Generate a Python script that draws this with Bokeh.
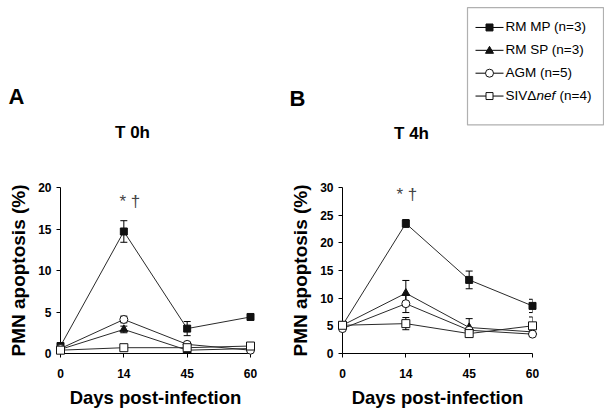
from bokeh.plotting import figure
from bokeh.models import ColumnDataSource, Range1d, FixedTicker, Whisker, TeeHead
from bokeh.core.properties import value
from bokeh.layouts import row
from bokeh.embed import file_html
from bokeh.resources import INLINE

# ---------------- data ----------------
days = ["0", "14", "45", "60"]
series_names = ["RM MP", "RM SP", "AGM", "SIV\u0394nef"]
series_n = [3, 3, 5, 4]

# Panel A: T 0h
a_rm_mp = [0.9, 14.7, 3.0, 4.4]
a_rm_mp_err = [0.2, 1.3, 0.85, 0.15]
a_rm_sp = [0.5, 2.9, 0.4, 0.6]
a_rm_sp_err = [0.1, 0.4, 0.1, 0.1]
a_agm = [0.6, 4.1, 1.1, 0.4]
a_agm_err = [0.1, 0.4, 0.2, 0.1]
a_siv = [0.4, 0.7, 0.7, 0.9]
a_siv_err = [0.1, 0.1, 0.1, 0.1]

# Panel B: T 4h
b_rm_mp = [5.1, 23.5, 13.3, 8.6]
b_rm_mp_err = [0.5, 0.7, 1.6, 1.2]
b_rm_sp = [5.1, 10.9, 4.7, 3.9]
b_rm_sp_err = [0.4, 2.3, 1.6, 0.3]
b_agm = [4.5, 9.0, 4.2, 3.5]
b_agm_err = [0.3, 1.6, 0.5, 0.3]
b_siv = [5.1, 5.4, 3.6, 5.0]
b_siv_err = [0.3, 1.1, 0.6, 1.6]

a_ticks = [0, 5, 10, 15, 20]
b_ticks = [0, 5, 10, 15, 20, 25, 30]

# ---------------- styles ----------------
FONT = "Liberation Sans"
markers = ["square", "triangle", "circle", "square"]
sizes = [7, 8, 8, 8]
fills = ["#111111", "#111111", "white", "white"]
LINE = "#2a2a2a"
MARK_LINE = "#111111"
FRAME_W = 190


def make_panel(width, left, top, frame_h, ymax, yticks, vals, errs):
    height = 413
    p = figure(width=width, height=height, output_backend="svg", toolbar_location=None,
               x_range=Range1d(0, len(days) - 1), y_range=Range1d(0, ymax),
               min_border_left=left, min_border_right=width - left - FRAME_W,
               min_border_top=top, min_border_bottom=height - top - frame_h)
    p.outline_line_color = None
    p.grid.visible = False
    p.background_fill_color = "white"
    p.border_fill_color = "white"

    xs = list(range(len(days)))
    p.xaxis.ticker = FixedTicker(ticks=xs)
    p.xaxis.major_label_overrides = {i: d for i, d in enumerate(days)}
    p.yaxis.ticker = FixedTicker(ticks=yticks)
    for ax in (p.xaxis[0], p.yaxis[0]):
        ax.minor_tick_line_color = None
        ax.major_tick_in = 0
        ax.major_tick_out = 4
        ax.axis_line_color = "black"
        ax.major_tick_line_color = "black"
        ax.major_label_text_font = FONT
        ax.major_label_text_font_style = "bold"
        ax.major_label_text_font_size = "12px"
        ax.major_label_text_color = "black"
        ax.axis_label_text_font = FONT
        ax.axis_label_text_font_style = "bold"
        ax.axis_label_text_color = "black"
    p.xaxis.major_label_standoff = 11
    p.yaxis.major_label_standoff = 5
    p.xaxis.axis_label = "Days post-infection"
    p.xaxis.axis_label_text_font_size = "18.5px"
    p.xaxis.axis_label_standoff = 6
    p.yaxis.axis_label = "PMN apoptosis (%)"
    p.yaxis.axis_label_text_font_size = "19px"
    p.yaxis.axis_label_standoff = 6

    srcs = []
    for v, e in zip(vals, errs):
        src = ColumnDataSource(dict(x=xs, y=v,
                                    upper=[a + b for a, b in zip(v, e)],
                                    lower=[a - b for a, b in zip(v, e)]))
        srcs.append(src)
        p.add_layout(Whisker(base="x", upper="upper", lower="lower", source=src,
                             level="annotation", line_color="black", line_width=1,
                             upper_head=TeeHead(size=7, line_color="black", line_width=1),
                             lower_head=TeeHead(size=7, line_color="black", line_width=1)))
    for src in srcs:
        p.line("x", "y", source=src, line_color=LINE, line_width=1, level="overlay")
    for i, src in enumerate(srcs):
        p.scatter("x", "y", source=src, marker=markers[i], size=sizes[i],
                  fill_color=fills[i], line_color=MARK_LINE, line_width=1,
                  level="overlay")

    # converters: screen offset (px from the frame's bottom-left corner) -> data units
    fx = lambda sx: sx * (len(days) - 1) / FRAME_W
    fy = lambda sy: sy * ymax / frame_h
    return p, fx, fy


pa, fxa, fya = make_panel(286, 60, 187, 166, 20, a_ticks,
                          [a_rm_mp, a_rm_sp, a_agm, a_siv],
                          [a_rm_mp_err, a_rm_sp_err, a_agm_err, a_siv_err])
pb, fxb, fyb = make_panel(318, 56, 186, 167, 30, b_ticks,
                          [b_rm_mp, b_rm_sp, b_agm, b_siv],
                          [b_rm_mp_err, b_rm_sp_err, b_agm_err, b_siv_err])
conv = {"A": (pa, fxa, fya), "B": (pb, fxb, fyb)}


def lab(key, text, sx, sy, size, style="bold", align="left", baseline="middle",
        color="black"):
    p, fx, fy = conv[key]
    p.text(x=[fx(sx)], y=[fy(sy)], text=[text], level="overlay",
           text_font=value(FONT), text_font_size=value(size),
           text_font_style=value(style), text_align=value(align),
           text_baseline=value(baseline), text_color=color)


# panel letters and titles
lab("A", "A", -52, 257, "22px")
lab("A", "T 0h", 72, 221, "17px", align="center")
lab("B", "B", -53, 257, "22px")
lab("B", "T 4h", 69, 221, "17px", align="center")

# significance marks over day 14 (x anchored at the "14" tick)
pa.text(x=[1], y=[fya(152)], text=["* \u2020"], x_offset=6, level="overlay",
        text_font=value(FONT), text_font_size=value("17px"), text_align=value("center"),
        text_baseline=value("alphabetic"), text_color="#444444")
pb.text(x=[1], y=[fyb(160)], text=["* \u2020"], x_offset=1, level="overlay",
        text_font=value(FONT), text_font_size=value("17px"), text_align=value("center"),
        text_baseline=value("alphabetic"), text_color="#444444")

# legend (drawn in panel B, above its frame)
pb.quad(left=[fxb(125)], right=[fxb(261)], top=[fyb(348)], bottom=[fyb(230)],
        fill_color="white", fill_alpha=0, line_color="#b0b0b0", line_width=1.2,
        level="overlay")
row_sy = [328, 305, 282, 259]
MX = 147
for i, (name, n) in enumerate(zip(series_names, series_n)):
    sy = row_sy[i]
    pb.segment(x0=[fxb(133)], x1=[fxb(161)], y0=[fyb(sy)], y1=[fyb(sy)],
               line_color="black", line_width=1, level="overlay")
    if markers[i] == "square":
        h = 3.5
        pb.quad(left=[fxb(MX - h)], right=[fxb(MX + h)], top=[fyb(sy + h)],
                bottom=[fyb(sy - h)], fill_color=fills[i], line_color=MARK_LINE,
                line_width=1, level="overlay")
    elif markers[i] == "triangle":
        pb.patch(x=[fxb(MX - 4), fxb(MX + 4), fxb(MX)],
                 y=[fyb(sy - 3), fyb(sy - 3), fyb(sy + 4)],
                 fill_color=fills[i], line_color=MARK_LINE, line_width=1, level="overlay")
    else:
        pb.ellipse(x=[fxb(MX)], y=[fyb(sy)], width=8, height=8, width_units="screen",
                   height_units="screen", fill_color=fills[i], line_color=MARK_LINE,
                   line_width=1, level="overlay")
    ty = sy + 1
    if name.endswith("nef"):
        lab("B", name[:-3], 163, ty, "13.5px", style="normal")
        lab("B", "nef", 194, ty, "13.5px", style="italic")
        lab("B", f"(n={n})", 217, ty, "13.5px", style="normal")
    else:
        lab("B", f"{name} (n={n})", 163, ty, "13.5px", style="normal")

layout = row(pa, pb)
open("out.html", "w").write(file_html(layout, INLINE))
